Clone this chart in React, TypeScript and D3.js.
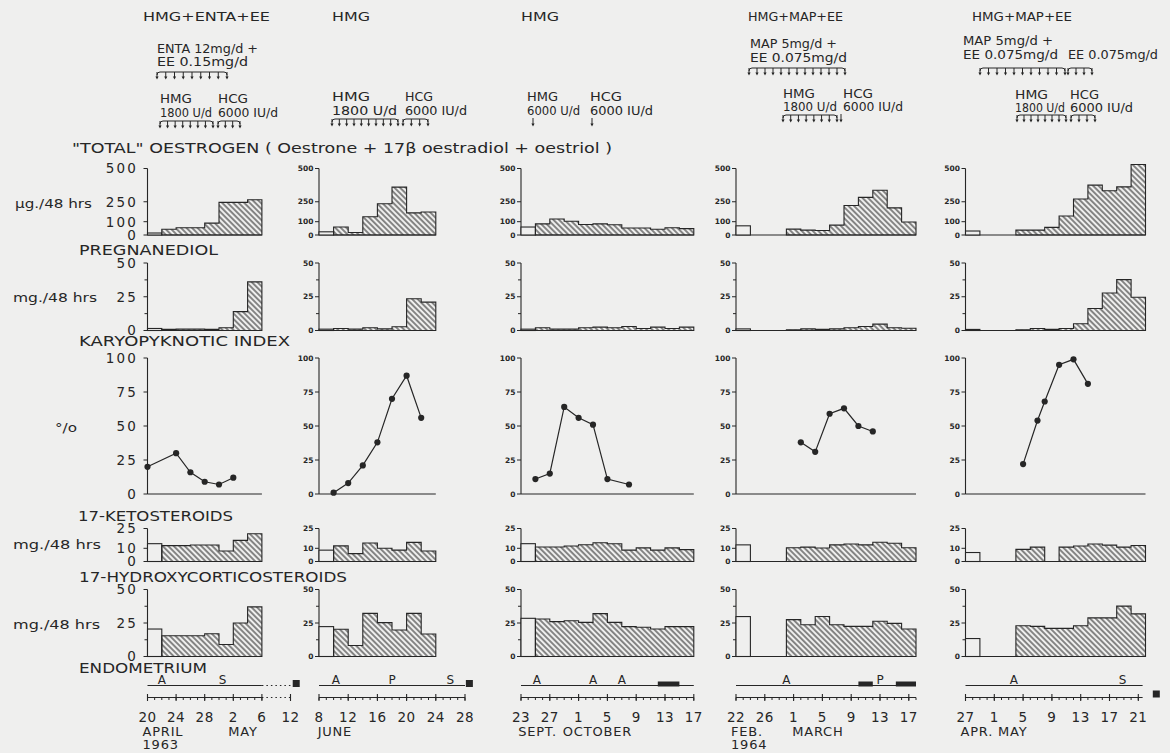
import * as d3 from 'd3'

const W = 1170
const H = 753
const INK = '#262626'
const PAPER = '#efefee'
const FONT = '"DejaVu Sans", Verdana, sans-serif'

// ---- data ----
const headers = ['HMG+ENTA+EE', 'HMG', 'HMG', 'HMG+MAP+EE', 'HMG+MAP+EE']
const hatchStartDay = [2, 2, 2, 7, 7] // first treated 48-hr collection (days from first date)

const oestrogenControl = [15, 24, 60, 69, 30]
const oestrogen = [
  [43, 55, 55, 89, 245, 245, 265],
  [60, 19, 137, 235, 360, 166, 173],
  [84, 120, 103, 79, 84, 77, 53, 53, 43, 55, 48],
  [44, 37, 34, 74, 222, 283, 337, 204, 98],
  [37, 37, 57, 143, 271, 375, 333, 362, 530],
]
const pregnanediolControl = [1.5, 1, 1, 1.2, 0.8]
const pregnanediol = [
  [0.8, 1, 1, 0.8, 2, 14, 36],
  [1.5, 1, 2, 1.2, 2.8, 23.5, 21],
  [2, 1, 1, 2, 2.5, 2, 3, 1.5, 2.5, 1.5, 2.5],
  [0.5, 1.2, 0.8, 1.2, 2, 3, 4.7, 2, 1.7],
  [0.5, 1.5, 0.8, 1.5, 5, 16.3, 27.8, 37.7, 24.6],
]
const kpiDays = [
  [0, 4, 6, 8, 10, 12],
  [2, 4, 6, 8, 10, 12, 14],
  [2, 4, 6, 8, 10, 12, 15],
  [9, 11, 13, 15, 17, 19],
  [8, 10, 11, 13, 15, 17],
]
const kpiValues = [
  [20, 30, 16, 9, 7, 12],
  [1, 8, 21, 38, 70, 87, 56],
  [11, 15, 64, 56, 51, 11, 7],
  [38, 31, 59, 63, 50, 46],
  [22, 54, 68, 95, 99, 81],
]
const ketoControl = [13.5, 8.6, 13.5, 12.6, 6.8]
const keto = [
  [12, 12, 12.5, 12.5, 8, 16, 21],
  [11.8, 6, 14, 10, 8.6, 14.5, 8],
  [11, 11, 11.7, 12.7, 14.2, 13.5, 8.6, 10.3, 8.6, 10.3, 9],
  [10.4, 10.9, 10.2, 12.6, 13.3, 12.6, 14.6, 13.8, 10.4],
  [9.2, 10.9, null, 10.9, 11.7, 13.3, 12.4, 10.9, 12.1],
]
const hydroxyControl = [20.5, 22.3, 28.5, 29.8, 13.4]
const hydroxy = [
  [15.5, 15.5, 15.5, 17, 9, 25, 37],
  [20.3, 8.2, 32.2, 25.3, 19.8, 32.2, 16.8],
  [28, 26, 26.7, 25.5, 32, 25.5, 22.3, 21.8, 20.5, 22.3, 22.3],
  [27.5, 23.7, 29.8, 23.7, 22.5, 22.5, 26.3, 24.7, 20.5],
  [23, 22.5, 21, 21, 23, 28.8, 28.8, 37.6, 31.8],
]

const dateLabels = [
  ['20', '24', '28', '2', '6', '12'],
  ['8', '12', '16', '20', '24', '28'],
  ['23', '27', '1', '5', '9', '13', '17'],
  ['22', '26', '1', '5', '9', '13', '17'],
  ['27', '1', '5', '9', '13', '17', '21'],
]
const monthLabels = [
  [{ text: 'APRIL', day: 0 }, { text: 'MAY', day: 12 }],
  [{ text: 'JUNE', day: 0.5 }],
  [{ text: 'SEPT.', day: 0.3 }, { text: 'OCTOBER', day: 6.5 }],
  [{ text: 'FEB.', day: 0 }, { text: 'MARCH', day: 8.5 }],
  [{ text: 'APR. MAY', day: 0 }],
]
const yearLabels = [{ col: 0, text: '1963' }, { col: 3, text: '1964' }]

const endoLetters = [
  [{ t: 'A', day: 2 }, { t: 'S', day: 10.5 }],
  [{ t: 'A', day: 2.3 }, { t: 'P', day: 10 }, { t: 'S', day: 18 }],
  [{ t: 'A', day: 2.2 }, { t: 'A', day: 10 }, { t: 'A', day: 14 }],
  [{ t: 'A', day: 7 }, { t: 'P', day: 20 }],
  [{ t: 'A', day: 6.7 }, { t: 'S', day: 21.8 }],
]
const endoBlocks = [[], [], [[19, 22]], [[17, 19], [22.2, 25]], []]
const biopsyDay = [20.8, 20.6, null, null, 26.5]

// ---- layout ----
const cols = [
  { x0: 147.5, ppd: 7.15, panelEnd: 16, axisEnd: 16, dottedEnd: 20 },
  { x0: 319, ppd: 7.3, panelEnd: 16, axisEnd: 20 },
  { x0: 521, ppd: 7.2, panelEnd: 24, axisEnd: 24 },
  { x0: 736, ppd: 7.2, panelEnd: 25, axisEnd: 25 },
  { x0: 965.5, ppd: 7.2, panelEnd: 25, axisEnd: 24.6 },
]
const rows = [
  { kind: 'bar', top: 168.5, bottom: 235, max: 500, ticks: [0, 100, 250, 500], minor: [], control: oestrogenControl, values: oestrogen },
  { kind: 'bar', top: 263, bottom: 330.5, max: 50, ticks: [0, 25, 50], minor: [12.5, 37.5], control: pregnanediolControl, values: pregnanediol },
  { kind: 'line', top: 358, bottom: 494, max: 100, ticks: [0, 25, 50, 75, 100], minor: [] },
  { kind: 'bar', top: 528.5, bottom: 561.5, max: 25, ticks: [0, 10, 25], minor: [], control: ketoControl, values: keto },
  { kind: 'bar', top: 589.5, bottom: 656.5, max: 50, ticks: [0, 25, 50], minor: [12.5, 37.5], control: hydroxyControl, values: hydroxy },
]
const endoY = 685.5
const timeY = 697.5
const biopsyY = [683.5, 683.5, 0, 0, 694]

const xScale = (c: number) => {
  const col = cols[c]
  return d3.scaleLinear().domain([0, 1]).range([col.x0, col.x0 + col.ppd])
}

const rowTitles = [
  { text: '"TOTAL" OESTROGEN ( Oestrone + 17β oestradiol + oestriol )', x: 72, y: 153, w: 540 },
  { text: 'PREGNANEDIOL', x: 79, y: 255, w: 139 },
  { text: 'KARYOPYKNOTIC  INDEX', x: 79, y: 346, w: 211 },
  { text: '17-KETOSTEROIDS', x: 78, y: 521, w: 155 },
  { text: '17-HYDROXYCORTICOSTEROIDS', x: 79, y: 582, w: 268 },
  { text: 'ENDOMETRIUM', x: 79, y: 673, w: 128 },
]
const unitLabels = [
  { text: 'µg./48 hrs', x: 15, y: 208, w: 77 },
  { text: 'mg./48 hrs', x: 13, y: 302, w: 84 },
  { text: '°/o', x: 55, y: 432, w: 22 },
  { text: 'mg./48 hrs', x: 13, y: 549, w: 88 },
  { text: 'mg./48 hrs', x: 13, y: 629, w: 87 },
]
const headerPos = [
  { x: 143, w: 127 }, { x: 332, w: 38 }, { x: 521, w: 38 }, { x: 748, w: 95 }, { x: 972, w: 100 },
]
const doseNotes = [
  { text: 'ENTA 12mg/d +', x: 157, y: 53, w: 101 },
  { text: 'EE  0.15mg/d', x: 157, y: 66, w: 91 },
  { text: 'HMG', x: 160, y: 103, w: 32 }, { text: 'HCG', x: 218, y: 103, w: 30 },
  { text: '1800 U/d', x: 160, y: 117, w: 52 }, { text: '6000 IU/d', x: 218, y: 117, w: 60 },
  { text: 'HMG', x: 332, y: 101, w: 38 }, { text: 'HCG', x: 405, y: 101, w: 28 },
  { text: '1800  U/d', x: 332, y: 115, w: 65 }, { text: '6000 IU/d', x: 405, y: 115, w: 62 },
  { text: 'HMG', x: 527, y: 101, w: 31 }, { text: 'HCG', x: 590, y: 101, w: 32 },
  { text: '6000 U/d', x: 527, y: 115, w: 53 }, { text: '6000 IU/d', x: 590, y: 115, w: 63 },
  { text: 'MAP 5mg/d +', x: 750, y: 48, w: 87 },
  { text: 'EE 0.075mg/d', x: 750, y: 62, w: 97 },
  { text: 'HMG', x: 783, y: 98, w: 32 }, { text: 'HCG', x: 843, y: 98, w: 30 },
  { text: '1800 U/d', x: 783, y: 111, w: 54 }, { text: '6000 IU/d', x: 843, y: 111, w: 60 },
  { text: 'MAP 5mg/d +', x: 963, y: 45, w: 90 },
  { text: 'EE 0.075mg/d', x: 963, y: 59, w: 95 },
  { text: 'EE 0.075mg/d', x: 1068, y: 59, w: 90 },
  { text: 'HMG', x: 1015, y: 99, w: 33 }, { text: 'HCG', x: 1070, y: 99, w: 29 },
  { text: '1800 U/d', x: 1015, y: 112, w: 50 }, { text: '6000 IU/d', x: 1070, y: 112, w: 63 },
]
const brackets = [
  { x1: 157, x2: 227, y: 72, n: 9 },
  { x1: 160, x2: 213, y: 121, n: 8 },
  { x1: 218, x2: 240, y: 121, n: 4 },
  { x1: 332, x2: 398, y: 119, n: 10 },
  { x1: 403, x2: 428, y: 119, n: 4 },
  { x1: 533, x2: 533, y: 119, n: 1 },
  { x1: 592, x2: 592, y: 119, n: 1 },
  { x1: 749, x2: 845, y: 68, n: 13 },
  { x1: 783, x2: 837, y: 115, n: 8 },
  { x1: 841, x2: 841, y: 115, n: 1 },
  { x1: 980, x2: 1065, y: 68, n: 11 },
  { x1: 1068, x2: 1092, y: 68, n: 4 },
  { x1: 1017, x2: 1066, y: 115, n: 8 },
  { x1: 1071, x2: 1095, y: 115, n: 4 },
]

const Bracket = ({ x1, x2, y, n }: { x1: number; x2: number; y: number; n: number }) => {
  const xs = n === 1 ? [x1] : d3.range(n).map(i => x1 + (i * (x2 - x1)) / (n - 1))
  return (
    <g stroke={INK} strokeWidth={1} fill="none">
      {n > 1 && <path d={`M${x1},${y + 3}Q${x1},${y} ${x1 + 3},${y}H${x2 - 3}Q${x2},${y} ${x2},${y + 3}`} />}
      {xs.map((x, i) => (
        <g key={i}>
          <line x1={x} x2={x} y1={n > 1 ? y : y - 1} y2={y + 6} />
          <path d={`M${x - 1.6},${y + 4.5}L${x + 1.6},${y + 4.5}L${x},${y + 7.5}Z`} fill={INK} stroke="none" />
        </g>
      ))}
    </g>
  )
}

const Panel = ({ c, r }: { c: number; r: number }) => {
  const row = rows[r]
  const col = cols[c]
  const x = xScale(c)
  const y = d3.scaleLinear().domain([0, row.max]).range([row.bottom, row.top])
  const ax = x(0)
  const big = c === 0
  const marks: any[] = []

  if (row.kind === 'bar') {
    const ctrl = row.control![c]
    marks.push(
      <rect key="ctrl" x={x(0)} y={y(ctrl)} width={x(2) - x(0)} height={y(0) - y(ctrl)}
        fill={PAPER} stroke={INK} strokeWidth={1.1} />
    )
    const vals = row.values![c]
    const start = hatchStartDay[c]
    // split into runs of non-null values
    let i = 0
    while (i < vals.length) {
      if (vals[i] == null) { i++; continue }
      const s = i
      while (i < vals.length && vals[i] != null) i++
      let d = `M${x(start + 2 * s)},${y(0)}`
      for (let k = s; k < i; k++) d += `V${y(vals[k] as number)}H${x(start + 2 * (k + 1))}`
      d += `V${y(0)}Z`
      marks.push(<path key={'h' + s} d={d} fill="url(#hatch)" stroke={INK} strokeWidth={1.1} />)
    }
  } else {
    const pts = kpiDays[c].map((d, i) => [x(d), y(kpiValues[c][i])] as [number, number])
    marks.push(<path key="ln" d={d3.line()(pts) ?? ''} fill="none" stroke={INK} strokeWidth={1.2} />)
    pts.forEach((p, i) => marks.push(<circle key={'p' + i} cx={p[0]} cy={p[1]} r={3.1} fill={INK} />))
  }

  return (
    <g>
      <line x1={ax} x2={ax} y1={y(0)} y2={y(row.max)} stroke={INK} strokeWidth={1.1} />
      <line x1={ax} x2={x(col.panelEnd)} y1={y(0)} y2={y(0)} stroke={INK} strokeWidth={1.2} />
      {row.ticks.map(t => (
        <g key={t}>
          <line x1={ax - 4} x2={ax} y1={y(t)} y2={y(t)} stroke={INK} strokeWidth={1} />
          <text x={big ? 138 : ax - 5.5} y={y(t)} dy="0.36em" textAnchor="end"
            fontSize={big ? 13.5 : 7.5} fontWeight={big ? 'normal' : 'bold'}
            letterSpacing={big ? 2.2 : 0}>{t}</text>
        </g>
      ))}
      {row.minor.map(t => (
        <line key={'m' + t} x1={ax - 3} x2={ax} y1={y(t)} y2={y(t)} stroke={INK} strokeWidth={1} />
      ))}
      {marks}
    </g>
  )
}

const TimeAxis = ({ c }: { c: number }) => {
  const col = cols[c]
  const x = xScale(c)
  const days = d3.range(0, Math.floor(col.axisEnd) + 1)
  const majors = d3.range(0, col.axisEnd + 0.01, 4)
  const labelDays = col.dottedEnd ? [...majors, col.dottedEnd] : majors
  return (
    <g stroke={INK} fill="none">
      <line x1={x(0)} x2={x(col.axisEnd)} y1={timeY} y2={timeY} strokeWidth={1.1} />
      {days.map(d => <line key={d} x1={x(d)} x2={x(d)} y1={timeY} y2={timeY + 2.5} strokeWidth={1} />)}
      {majors.map(d => <line key={'M' + d} x1={x(d)} x2={x(d)} y1={timeY - 3.5} y2={timeY + 3.5} strokeWidth={1.1} />)}
      {col.dottedEnd && (
        <g>
          <line x1={x(col.axisEnd)} x2={x(col.dottedEnd)} y1={timeY} y2={timeY} strokeWidth={1.1} strokeDasharray="1.5,3" />
          <line x1={x(col.dottedEnd)} x2={x(col.dottedEnd)} y1={timeY - 3.5} y2={timeY + 3.5} strokeWidth={1.1} />
        </g>
      )}
      {/* endometrium line */}
      <line x1={x(0)} x2={x(col.axisEnd)} y1={endoY} y2={endoY} strokeWidth={1.1} />
      {col.dottedEnd && (
        <line x1={x(col.axisEnd)} x2={x(col.dottedEnd)} y1={endoY} y2={endoY} strokeWidth={1.2} strokeDasharray="1.5,3" />
      )}
      {endoBlocks[c].map(([a, b], i) => (
        <rect key={'b' + i} x={x(a)} y={endoY - 4} width={x(b) - x(a)} height={5} fill={INK} stroke="none" />
      ))}
      {biopsyDay[c] != null && (
        <rect x={x(biopsyDay[c] as number) - 3.5} y={biopsyY[c] - 3.5} width={7} height={7} fill={INK} stroke="none" />
      )}
      <g stroke="none" fill={INK} fontFamily={FONT}>
        {endoLetters[c].map((l, i) => (
          <text key={'l' + i} x={x(l.day)} y={endoY - 1.5} textAnchor="middle" fontSize={12}>{l.t}</text>
        ))}
        {labelDays.map((d, i) => (
          <text key={'d' + i} x={x(d)} y={722} textAnchor="middle" fontSize={13.5} letterSpacing={0.5}>{dateLabels[c][i]}</text>
        ))}
        {monthLabels[c].map((m, i) => (
          <text key={'m' + i} x={x(m.day) - 5} y={736} fontSize={13} letterSpacing={0.8}>{m.text}</text>
        ))}
        {yearLabels.filter(yl => yl.col === c).map(yl => (
          <text key="yr" x={x(0) - 5} y={749} fontSize={13} letterSpacing={0.8}>{yl.text}</text>
        ))}
      </g>
    </g>
  )
}

export default function App() {
  return (
    <svg width={W} height={H} viewBox={`0 0 ${W} ${H}`}
      style={{ position: 'absolute', left: 0, top: 0, display: 'block' }}
      fontFamily={FONT} fill={INK}>
      <defs>
        <pattern id="hatch" width={3.9} height={3.9} patternUnits="userSpaceOnUse" patternTransform="rotate(-45)">
          <line x1={1.95} y1={0} x2={1.95} y2={3.9} stroke={INK} strokeWidth={1.05} />
        </pattern>
      </defs>
      <rect x={0} y={0} width={W} height={H} fill={PAPER} />

      {headers.map((h, i) => (
        <text key={'hd' + i} x={headerPos[i].x} y={21} fontSize={13} textLength={headerPos[i].w} lengthAdjust="spacingAndGlyphs">{h}</text>
      ))}
      {doseNotes.map((n, i) => (
        <text key={'dn' + i} x={n.x} y={n.y} fontSize={12} textLength={n.w} lengthAdjust="spacingAndGlyphs">{n.text}</text>
      ))}
      {brackets.map((b, i) => <Bracket key={'br' + i} {...b} />)}

      {rowTitles.map((t, i) => (
        <text key={'rt' + i} x={t.x} y={t.y} fontSize={14} textLength={t.w} lengthAdjust="spacingAndGlyphs">{t.text}</text>
      ))}
      {unitLabels.map((t, i) => (
        <text key={'ul' + i} x={t.x} y={t.y} fontSize={13} textLength={t.w} lengthAdjust="spacingAndGlyphs">{t.text}</text>
      ))}

      {cols.map((_, c) => rows.map((__, r) => <Panel key={`p${c}-${r}`} c={c} r={r} />))}
      {cols.map((_, c) => <TimeAxis key={'t' + c} c={c} />)}
    </svg>
  )
}
